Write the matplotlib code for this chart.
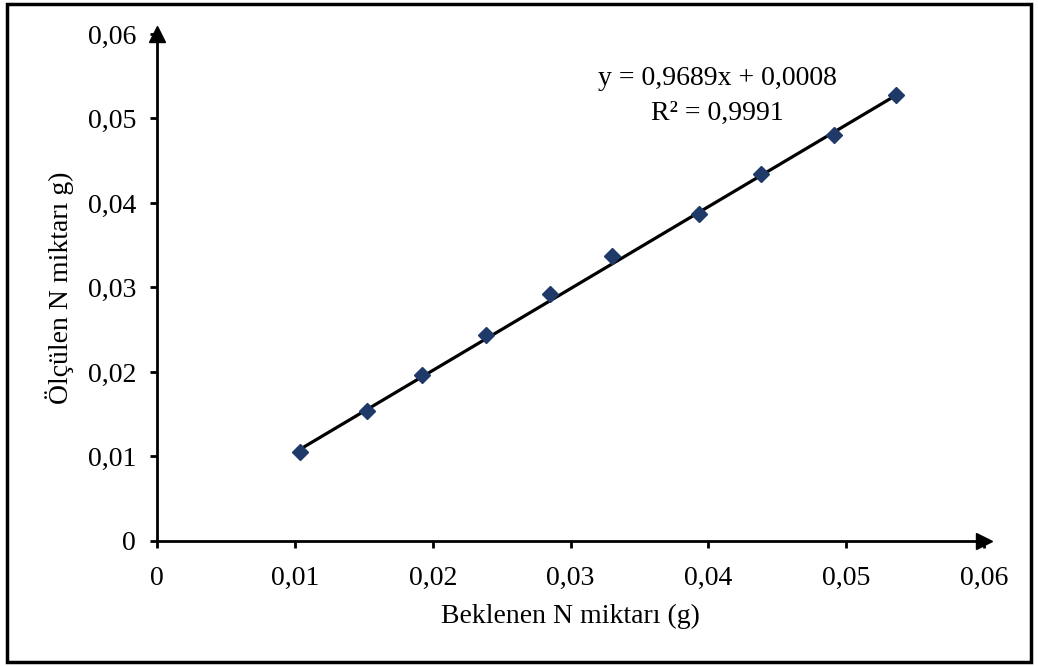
import matplotlib
matplotlib.use("Agg")
import matplotlib.pyplot as plt
from matplotlib.patches import Rectangle
from matplotlib.ticker import FixedLocator
import numpy as np

# expected vs measured N (g)
beklenen = [0.0104, 0.0152, 0.0192, 0.0239, 0.0285, 0.0330, 0.0393, 0.0438, 0.0491, 0.0536]
olculen = [0.0105, 0.0154, 0.0196, 0.0244, 0.0292, 0.0337, 0.0387, 0.0434, 0.0480, 0.0528]
egim, kesisim = 0.9689, 0.0008
ticks = [0, 0.01, 0.02, 0.03, 0.04, 0.05, 0.06]
tick_labels = ["0", "0,01", "0,02", "0,03", "0,04", "0,05", "0,06"]

plt.rcParams['font.family'] = ['Liberation Serif', 'DejaVu Serif']
plt.rcParams['font.size'] = 20

fig = plt.figure(figsize=(10.38, 6.66), dpi=100)
fig.patches.append(Rectangle((0.007, 0.006), 0.986, 0.988, transform=fig.transFigure,
                             fill=False, edgecolor='black', linewidth=2.5))

ax = fig.add_axes([0.1513, 0.1877, 0.7967, 0.7613])
ax.set_xlim(0, 0.06)
ax.set_ylim(0, 0.06)

ax.spines['top'].set_visible(False)
ax.spines['right'].set_visible(False)
for s in ('left', 'bottom'):
    ax.spines[s].set_linewidth(2)

ax.xaxis.set_major_locator(FixedLocator(ticks))
ax.yaxis.set_major_locator(FixedLocator(ticks))
ax.set_xticklabels(tick_labels)
ax.set_yticklabels(tick_labels)
ax.tick_params(direction='out', length=5, width=2)
ax.tick_params(axis='x', pad=13)
ax.tick_params(axis='y', pad=10)

# arrow heads on axes
ax.plot(1, 0, marker='>', color='black', ms=12, transform=ax.transAxes, clip_on=False)
ax.plot(0, 1, marker='^', color='black', ms=12, transform=ax.transAxes, clip_on=False)

xs = np.array([min(beklenen), max(beklenen)])
ax.plot(xs, egim * xs + kesisim, color='black', linewidth=2.3, zorder=2)
ax.plot(beklenen, olculen, linestyle='', marker='D', ms=8, color='#1F3A68', zorder=3)

ax.text(0.678, 0.913, "y = 0,9689x + 0,0008", transform=ax.transAxes,
        ha='center', va='center')
ax.text(0.678, 0.844, "R² = 0,9991", transform=ax.transAxes,
        ha='center', va='center')

ax.set_xlabel("Beklenen N miktarı (g)", labelpad=9)
ax.set_ylabel("Ölçülen N miktarı g)", labelpad=10)

fig.savefig("out.png", dpi=100)
